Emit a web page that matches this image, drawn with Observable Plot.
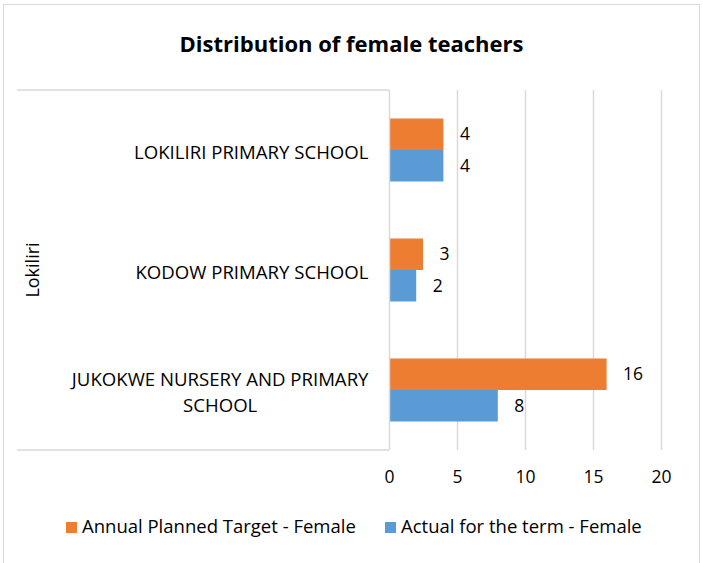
<!DOCTYPE html>
<html><head><meta charset="utf-8">
<script src="https://cdn.jsdelivr.net/npm/d3@7"></script>
<script src="https://cdn.jsdelivr.net/npm/@observablehq/plot@0.6"></script>
<style>
body{margin:0;background:#fff;}
#chart{position:relative;width:703px;height:563px;font-family:"Open Sans",sans-serif;overflow:hidden;background:#fff;color:#000;}
#border{position:absolute;left:3px;top:4px;width:697px;height:620px;border:1px solid #D9D9D9;box-sizing:border-box;}
#title{position:absolute;left:0;width:703px;top:29px;text-align:center;font-weight:bold;font-size:22px;line-height:28px;}
#plot{position:absolute;left:0;top:0;}
.leg{position:absolute;top:513px;font-size:18.5px;line-height:26px;white-space:nowrap;}
.sw{display:inline-block;width:11px;height:11px;margin-right:5px;vertical-align:0px;}
</style></head>
<body>
<div id="chart">
  <div id="border"></div>
  <div id="plot"></div>
  <div id="title"></div>
  <div id="legend"></div>
</div>
<script>
const schools = ["LOKILIRI PRIMARY SCHOOL", "KODOW PRIMARY SCHOOL", "JUKOKWE NURSERY AND PRIMARY SCHOOL"];
const schoolLabels = ["LOKILIRI PRIMARY SCHOOL", "KODOW PRIMARY SCHOOL", "JUKOKWE NURSERY AND PRIMARY\nSCHOOL"];
const seriesNames = ["Annual Planned Target - Female", "Actual for the term - Female"];
const seriesColors = ["#ED7D31", "#5B9BD5"];
const target = [4, 2.5, 16];
const actual = [4, 2, 8];
const xTicks = [0, 5, 10, 15, 20];
const groupLabel = "Lokiliri";
const titleText = "Distribution of female teachers";

const targetData = schools.map((s, i) => ({school: s, value: target[i]}));
const actualData = schools.map((s, i) => ({school: s, value: actual[i]}));
const fmt = d3.format(".0f");
const labelOf = new Map(schools.map((s, i) => [s, schoolLabels[i]]));

document.getElementById("title").textContent = titleText;
const legend = document.getElementById("legend");
const legLeft = [66, 385];
seriesNames.forEach((n, i) => {
  const d = document.createElement("div");
  d.className = "leg";
  d.style.left = legLeft[i] + "px";
  d.innerHTML = `<span class="sw" style="background:${seriesColors[i]}"></span>`;
  d.appendChild(document.createTextNode(n));
  legend.appendChild(d);
});

const decor = (index, scales, values, dims) => {
  const g = d3.create("svg:g");
  const top = dims.marginTop, bottom = dims.height - dims.marginBottom, left = dims.marginLeft;
  for (const y of [top, bottom]) {
    g.append("line").attr("x1", 17).attr("x2", left).attr("y1", y).attr("y2", y)
      .attr("stroke", "#D9D9D9").attr("stroke-width", 1.5);
  }
  g.append("text")
    .attr("transform", `translate(33,${(top + bottom) / 2}) rotate(-90)`)
    .attr("text-anchor", "middle").attr("dy", "0.35em")
    .attr("font-size", 18).attr("fill", "#000")
    .text(groupLabel);
  return g.node();
};

const plot = Plot.plot({
  width: 703,
  height: 563,
  marginTop: 90,
  marginBottom: 113,
  marginLeft: 389,
  marginRight: 42,
  style: {fontFamily: "'Open Sans', sans-serif", fontSize: "17px", color: "#000", background: "transparent"},
  x: {domain: [0, 20], ticks: xTicks},
  y: {domain: schools, padding: 0},
  marks: [
    Plot.ruleX(xTicks.slice(1), {stroke: "#D9D9D9", strokeWidth: 1.5}),
    Plot.barX(targetData, {x: "value", y: "school", fill: seriesColors[0], insetTop: 28.5, insetBottom: 60}),
    Plot.barX(actualData, {x: "value", y: "school", fill: seriesColors[1], insetTop: 60, insetBottom: 28.5}),
    Plot.ruleX([0], {stroke: "#D9D9D9", strokeWidth: 1.5}),
    Plot.text(targetData, {x: "value", y: "school", text: d => fmt(d.value), dy: -15.75, dx: 16, textAnchor: "start", fontSize: 17.5, fill: "#000"}),
    Plot.text(actualData, {x: "value", y: "school", text: d => fmt(d.value), dy: 15.75, dx: 16, textAnchor: "start", fontSize: 17.5, fill: "#000"}),
    Plot.axisX({ticks: xTicks, tickSize: 0, tickPadding: 20, fontSize: 17.5, label: null}),
    Plot.axisY({tickSize: 0, tickPadding: 21, fontSize: 18.6, label: null, tickFormat: d => labelOf.get(d), lineHeight: 1.38}),
    decor
  ]
});
document.getElementById("plot").appendChild(plot);

// center the lines of wrapped category labels within their block (as the original does)
d3.select(plot).selectAll('g[aria-label="y-axis tick label"] text').each(function() {
  const tspans = this.querySelectorAll("tspan");
  if (tspans.length > 1) {
    let w = 0;
    tspans.forEach(t => { w = Math.max(w, t.getComputedTextLength()); });
    this.setAttribute("text-anchor", "middle");
    tspans.forEach(t => t.setAttribute("x", -w / 2));
  }
});
</script>
</body></html>
